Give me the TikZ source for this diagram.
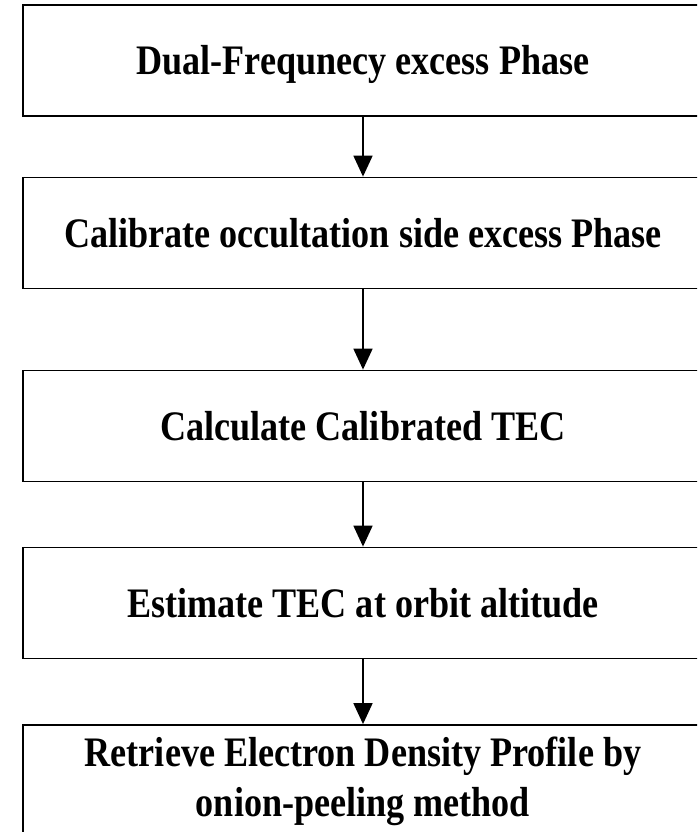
\documentclass[tikz,border=0pt]{standalone}
\usepackage{fontspec}
\setmainfont{Liberation Serif}[FakeStretch=0.86]
\usetikzlibrary{arrows.meta}
\begin{document}
\begin{tikzpicture}[x=1pt,y=-1pt,
  flowbox/.style={draw=black, line width=1.8pt, minimum width=680pt, minimum height=111pt,
    inner sep=0pt, align=center, font=\fontsize{42}{50}\selectfont\bfseries,
    text height=28pt, text depth=0pt},
  flowarrow/.style={line width=1.8pt, -{Triangle[width=19pt,length=21pt]}}]
\useasboundingbox (0,0) rectangle (697,832);
\clip (0,0) rectangle (697,832);
\fill[white] (0,0) rectangle (697,832);
\node[flowbox] (b1) at (363,60.5) {Dual-Frequnecy excess Phase};
\node[flowbox] (b2) at (363,233) {Calibrate occultation side excess Phase};
\node[flowbox] (b3) at (363,426) {Calculate Calibrated TEC};
\node[flowbox] (b4) at (363,603) {Estimate TEC at orbit altitude};
\node[flowbox, text height=78pt, text depth=6pt] (b5) at (363,780.5) {Retrieve Electron Density Profile by\\onion-peeling method};
\draw[flowarrow] (b1.south) -- (b2.north);
\draw[flowarrow] (b2.south) -- (b3.north);
\draw[flowarrow] (b3.south) -- (b4.north);
\draw[flowarrow] (b4.south) -- (b5.north);
\end{tikzpicture}
\end{document}
